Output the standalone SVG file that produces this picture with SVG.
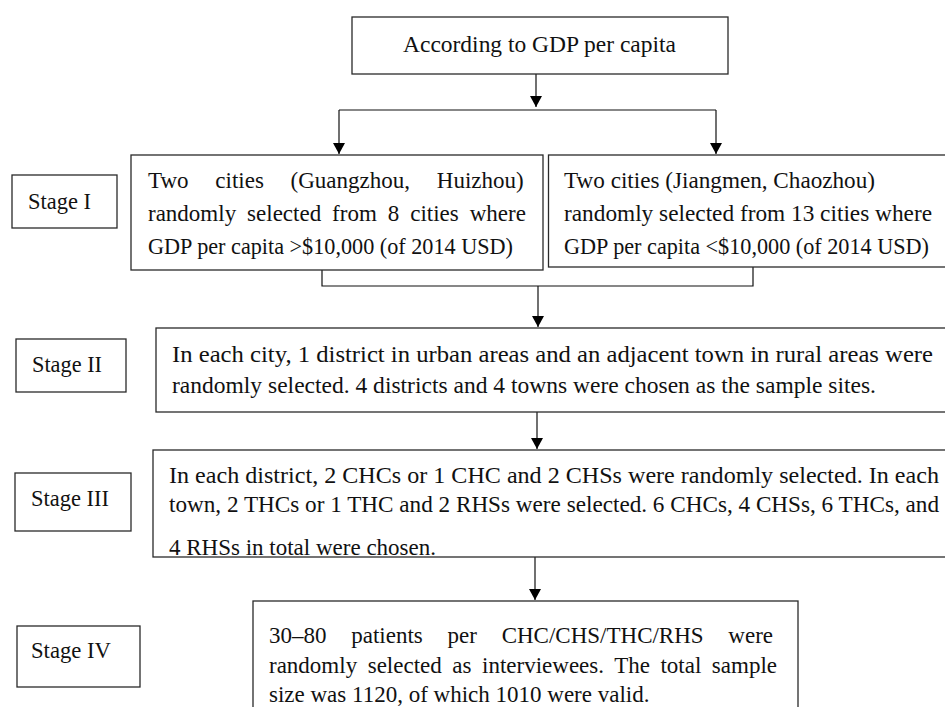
<svg xmlns="http://www.w3.org/2000/svg" width="945" height="707" viewBox="0 0 945 707" font-family="'Liberation Serif', serif">
<style>
.box{fill:#fff;stroke:#2a2a2a;stroke-width:1.3}
.t{font-family:'Liberation Serif',serif;font-size:23px;fill:#111}
.c{fill:none;stroke:#111;stroke-width:1.2}
</style>
<defs>
<marker id="ah" markerUnits="userSpaceOnUse" markerWidth="12" markerHeight="12" refX="11" refY="6" orient="auto">
<path d="M0,0 L11,6 L0,12 z" fill="#000"/>
</marker>
<clipPath id="clip3"><rect x="153" y="450" width="800" height="106"/></clipPath>
</defs>
<rect width="945" height="707" fill="#fff"/>

<g id="connectors">
<path class="c" d="M536,74 V107" marker-end="url(#ah)"/>
<path class="c" d="M339,110 H716"/>
<path class="c" d="M339,110 V154" marker-end="url(#ah)"/>
<path class="c" d="M716,110 V154" marker-end="url(#ah)"/>
<path class="c" d="M322,270 V286 H753 V267"/>
<path class="c" d="M538,286 V327" marker-end="url(#ah)"/>
<path class="c" d="M537,412 V449" marker-end="url(#ah)"/>
<path class="c" d="M535,557 V600" marker-end="url(#ah)"/>
</g>

<g id="top">
<rect class="box" x="352" y="17" width="376" height="57"/>
<text class="t" x="403" y="52" textLength="273" lengthAdjust="spacingAndGlyphs">According to GDP per capita</text>
</g>

<g id="stage1">
<rect class="box" x="12" y="175" width="105" height="53"/>
<text class="t" x="28" y="209" textLength="63" lengthAdjust="spacingAndGlyphs">Stage I</text>
</g>

<g id="left-cities">
<rect class="box" x="131" y="155" width="412" height="115"/>
<text class="t" x="148" y="188" word-spacing="21">Two cities (Guangzhou, Huizhou)</text>
<text class="t" x="148" y="221" word-spacing="5.2">randomly selected from 8 cities where</text>
<text class="t" x="148" y="254" textLength="365" lengthAdjust="spacingAndGlyphs">GDP per capita &gt;$10,000 (of 2014 USD)</text>
</g>

<g id="right-cities">
<rect class="box" x="548.5" y="155" width="410" height="112"/>
<text class="t" x="564" y="188" textLength="311" lengthAdjust="spacingAndGlyphs">Two cities (Jiangmen, Chaozhou)</text>
<text class="t" x="564" y="221" textLength="368" lengthAdjust="spacingAndGlyphs">randomly selected from 13 cities where</text>
<text class="t" x="564" y="254" textLength="365" lengthAdjust="spacingAndGlyphs">GDP per capita &lt;$10,000 (of 2014 USD)</text>
</g>

<g id="stage2">
<rect class="box" x="16" y="339" width="110" height="53"/>
<text class="t" x="32" y="372" textLength="70" lengthAdjust="spacingAndGlyphs">Stage II</text>
</g>

<g id="sites">
<rect class="box" x="156" y="328" width="800" height="84"/>
<text class="t" x="172" y="362" textLength="761" lengthAdjust="spacingAndGlyphs">In each city, 1 district in urban areas and an adjacent town in rural areas were</text>
<text class="t" x="172" y="393" textLength="704" lengthAdjust="spacingAndGlyphs">randomly selected. 4 districts and 4 towns were chosen as the sample sites.</text>
</g>

<g id="stage3">
<rect class="box" x="15" y="473" width="116" height="58"/>
<text class="t" x="31" y="506" textLength="78" lengthAdjust="spacingAndGlyphs">Stage III</text>
</g>

<g id="facilities">
<rect class="box" x="153" y="450" width="800" height="107"/>
<text class="t" x="169" y="483" textLength="770" lengthAdjust="spacingAndGlyphs">In each district, 2 CHCs or 1 CHC and 2 CHSs were randomly selected. In each</text>
<text class="t" x="169" y="512" textLength="770" lengthAdjust="spacingAndGlyphs">town, 2 THCs or 1 THC and 2 RHSs were selected. 6 CHCs, 4 CHSs, 6 THCs, and</text>
<text class="t" x="169" y="555" clip-path="url(#clip3)">4 RHSs in total were chosen.</text>
</g>

<g id="stage4">
<rect class="box" x="17" y="626" width="123" height="61"/>
<text class="t" x="31" y="658" textLength="80" lengthAdjust="spacingAndGlyphs">Stage IV</text>
</g>

<g id="patients">
<rect class="box" x="253" y="601" width="545" height="130"/>
<text class="t" x="269" y="643" word-spacing="19">30–80 patients per CHC/CHS/THC/RHS were</text>
<text class="t" x="269" y="673" word-spacing="4.8">randomly selected as interviewees. The total sample</text>
<text class="t" x="269" y="702">size was 1120, of which 1010 were valid.</text>
</g>
</svg>
